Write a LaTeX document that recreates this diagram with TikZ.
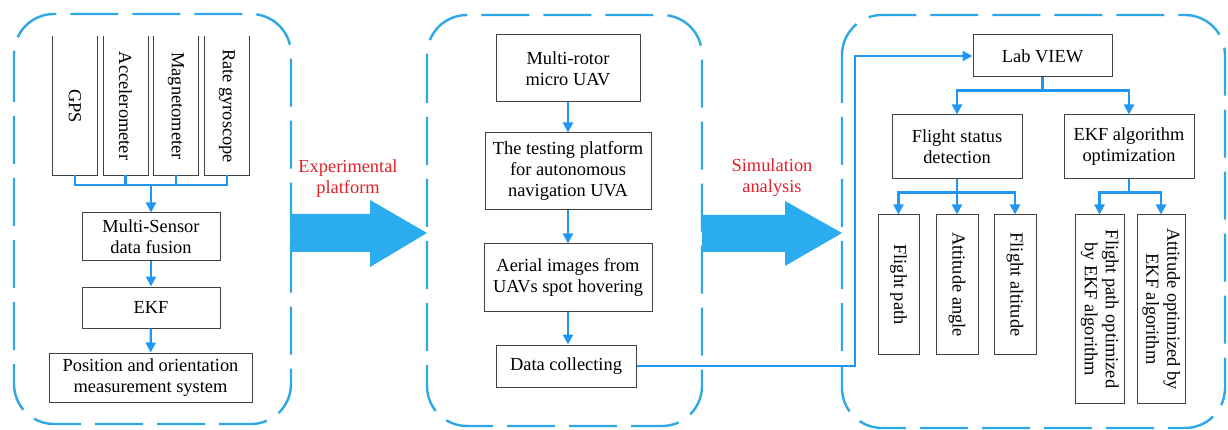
\documentclass[tikz,border=0pt]{standalone}
\usepackage{fontspec}
\setmainfont{Liberation Serif}
\usetikzlibrary{arrows.meta,positioning}
\definecolor{panelblue}{RGB}{45,168,228}
\definecolor{linkblue}{RGB}{33,150,243}
\definecolor{bigblue}{RGB}{42,172,238}
\definecolor{labelred}{RGB}{226,32,40}

\begin{document}
\begin{tikzpicture}[x=1pt, y=-1pt,
  panel/.style={draw=panelblue, line width=2.4pt, dash pattern=on 48pt off 14pt, rounded corners=40pt},
  box/.style={draw=black!75, line width=1pt, inner sep=2pt, align=center, font=\fontsize{18.4}{21}\selectfont},
  sensor/.style={box, draw=none, minimum width=44pt, minimum height=138pt},
  link/.style={draw=linkblue, line width=2.2pt, -{Triangle[length=10pt,width=10pt]}},
  bus/.style={draw=linkblue, line width=2.2pt},
  tag/.style={text=labelred, align=center, font=\fontsize{18.4}{21}\selectfont}]
  \useasboundingbox (0,0) rectangle (1228,430);

  % Panels
  \draw[panel] (14,14) rectangle (291,424);
  \draw[panel] (427,15) rectangle (702,426);
  \draw[panel] (842,15) rectangle (1225,428);

  % Sensors (open at the top)
  \node[sensor] (gps)  at (75,106)    {\rotatebox{-90}{GPS}};
  \node[sensor] (acc)  at (125.5,106) {\rotatebox{-90}{Accelerometer}};
  \node[sensor] (mag)  at (176,106)   {\rotatebox{-90}{Magnetometer}};
  \node[sensor] (gyro) at (227,106)   {\rotatebox{-90}{Rate gyroscope}};
  \foreach \s in {gps,acc,mag,gyro}
    \draw[draw=black!75, line width=1pt] (\s.north west) |- (\s.south east) -- (\s.north east);

  % Fusion chain
  \node[box, minimum width=138pt, minimum height=48pt] (fusion) at (151,237) {Multi-Sensor\\data fusion};
  \node[box, minimum width=138pt, minimum height=41pt] (ekf) at (151,307.5) {EKF};
  \node[box, minimum width=203pt, minimum height=49pt] (pose) at (150.5,377.5) {Position and orientation\\measurement system};
  \coordinate (sensbus) at (151,185);
  \draw[bus] (gps.south) |- (sensbus) -| (gyro.south);
  \draw[bus] (acc.south) -- (acc.south |- sensbus);
  \draw[bus] (mag.south) -- (mag.south |- sensbus);
  \draw[link] (sensbus) -- (fusion.north);
  \draw[link] (fusion) -- (ekf);
  \draw[link] (ekf) -- (pose);

  % Platform column
  \node[box, minimum width=144pt, minimum height=67pt] (uav) at (568,68.5) {Multi-rotor\\micro UAV};
  \node[box, minimum width=166pt, minimum height=77pt] (testbed) at (568,171.5) {The testing platform\\for autonomous\\navigation UVA};
  \node[box, minimum width=168pt, minimum height=67pt] (aerial) at (568,277.5) {Aerial images from\\UAVs spot hovering};
  \node[box, minimum width=140pt, minimum height=42pt] (collect) at (566,366) {Data collecting};
  \draw[link] (uav) -- (testbed);
  \draw[link] (testbed) -- (aerial);
  \draw[link] (aerial.south) -- (aerial.south |- collect.north);

  % Big arrows and their labels
  \fill[bigblue] (290,214) -- (370,214) -- (370,200) -- (427,233) -- (370,267) -- (370,252) -- (290,252) -- cycle;
  \fill[bigblue] (702,215) -- (785,215) -- (785,201) -- (842,233) -- (785,266) -- (785,252) -- (702,252) -- cycle;
  \node[tag] (expt) at (348,179) {Experimental\\platform};
  \node[tag] (simu) at (772,178) {Simulation\\analysis};

  % Analysis tree
  \node[box, minimum width=139pt, minimum height=42pt] (labview) at (1042.5,56) {Lab VIEW};
  \node[box, minimum width=130pt, minimum height=64pt] (status) at (957,147) {Flight status\\detection};
  \node[box, minimum width=130pt, minimum height=64pt] (ekfopt) at (1129,147) {EKF algorithm\\optimization};
  \node[box, minimum width=41pt, minimum height=139pt] (fpath) at (898.5,284.5) {\rotatebox{-90}{Flight path}};
  \node[box, minimum width=42pt, minimum height=139pt] (attang) at (957,284.5) {\rotatebox{-90}{Attitude angle}};
  \node[box, minimum width=42pt, minimum height=139pt] (falt) at (1015,284.5) {\rotatebox{-90}{Flight altitude}};
  \node[box, minimum width=49pt, minimum height=188pt] (fpopt) at (1099.5,309)
    {\rotatebox{-90}{\begin{tabular}{@{}c@{}}Flight path optimized\\by EKF algorithm\end{tabular}}};
  \node[box, minimum width=48pt, minimum height=188pt] (attopt) at (1161,309)
    {\rotatebox{-90}{\begin{tabular}{@{}c@{}}Attitude optimized by\\EKF algorithm\end{tabular}}};

  \coordinate (turn) at (855,366);
  \draw[link] (collect.east) -- (turn) |- (labview.west);

  \draw[bus] (labview.south) -- ++(0,13) coordinate (lvbus);
  \draw[link] (lvbus) -| (status.north);
  \draw[link] (lvbus) -| (ekfopt.north);

  \draw[bus] (status.south) -- ++(0,13) coordinate (stbus);
  \draw[link] (stbus) -| (fpath.north);
  \draw[link] (stbus) -- (attang.north);
  \draw[link] (stbus) -| (falt.north);

  \draw[bus] (ekfopt.south) -- ++(0,13) coordinate (eobus);
  \draw[link] (eobus) -| (fpopt.north);
  \draw[link] (eobus) -| (attopt.north);
\end{tikzpicture}
\end{document}
